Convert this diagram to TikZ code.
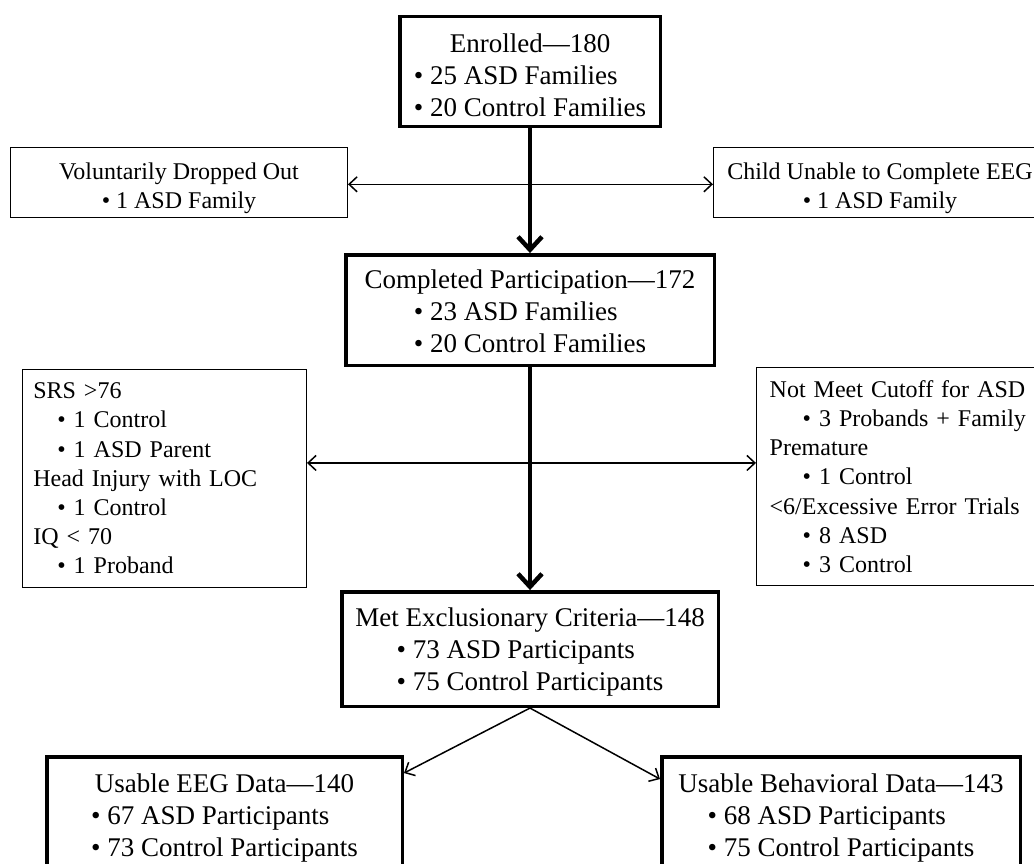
\documentclass[tikz,border=0pt]{standalone}
\usepackage{fontspec}
\setmainfont{Liberation Serif}
\usetikzlibrary{positioning}
\usetikzlibrary{calc}
\usetikzlibrary{arrows.meta}

\tikzset{
  mainbox/.style={rectangle, draw, line width=3.5pt, align=center, inner sep=0pt,
    font=\fontsize{27}{32}\selectfont},
  sidebox/.style={rectangle, draw, line width=1.4pt, inner ysep=0pt,
    font=\fontsize{24}{29.2}\selectfont},
  thickarrow/.style={-{Straight Barb[length=13pt,width=24pt]}, line width=4.5pt},
  bothway/.style={{Straight Barb[length=8pt,width=15pt]}-{Straight Barb[length=8pt,width=15pt]}, line width=1.5pt},
  onearrow/.style={-{Straight Barb[length=8pt,width=15pt]}, line width=1.5pt}
}

\begin{document}
\begin{tikzpicture}[x=1pt,y=-1pt]
\useasboundingbox (0,0) rectangle (1034,863);

\node [mainbox, minimum width=260.5pt, minimum height=107.5pt] (enrolled) at (530,71.5)
  {\rule{0pt}{36pt}Enrolled—180\\ \begin{tabular}[t]{@{}l@{}}• 25 ASD Families\\ • 20 Control Families\end{tabular}};

\node [mainbox, minimum width=368.5pt, minimum height=110.5pt] (completed) [below=125pt of enrolled]
  {\rule{0pt}{30pt}Completed Participation—172\\ \begin{tabular}[t]{@{}l@{}}• 23 ASD Families\\ • 20 Control Families\end{tabular}};
\draw [thickarrow] (enrolled) to (completed);

\node [mainbox, minimum width=376.5pt, minimum height=114.5pt] (met) [below=223pt of completed]
  {\rule{0pt}{28pt}Met Exclusionary Criteria—148\\ \begin{tabular}[t]{@{}l@{}}• 73 ASD Participants\\ • 75 Control Participants\end{tabular}};
\draw [thickarrow] (completed) to (met);

%dropped out
\node [sidebox, align=center, minimum width=336.6pt, minimum height=69.6pt] (dropped) [below left=19pt and 50pt of enrolled]
  {\rule{0pt}{28pt}Voluntarily Dropped Out\\ • 1 ASD Family};
\node [sidebox, align=center, minimum width=332.6pt, minimum height=69.6pt] (unable) [below right=19pt and 51pt of enrolled]
  {\rule{0pt}{28pt}Child Unable to Complete EEG\\ • 1 ASD Family};
\coordinate (gap1) at ($(enrolled.south)!0.45!(completed.north)$);
\draw [bothway] (dropped.east |- gap1) to (unable.west |- gap1);

%excluded
\node [sidebox, align=left, inner xsep=11pt, text width=262pt, minimum height=217.6pt] (srs) [below left=2pt and 37pt of completed]
  {SRS >76\\ \hspace*{24pt}• 1 Control\\ \hspace*{24pt}• 1 ASD Parent\\ Head Injury with LOC\\
   \hspace*{24pt}• 1 Control\\ IQ < 70\\ \hspace*{24pt}• 1 Proband};
\node [sidebox, align=left, inner xsep=13pt, text width=262pt, minimum height=217.6pt] (cutoff) [below right=0pt and 40pt of completed]
  {Not Meet Cutoff for ASD\\ \hspace*{33pt}• 3 Probands + Family\\ Premature\\ \hspace*{33pt}• 1 Control\\
   <6/Excessive Error Trials\\ \hspace*{33pt}• 8 ASD\\ \hspace*{33pt}• 3 Control};
\coordinate (gap2) at ($(completed.south)!0.43!(met.north)$);
\draw [bothway] (srs.east |- gap2) to (cutoff.west |- gap2);

%usable data
\node [mainbox, minimum width=355.5pt, minimum height=114.5pt] (eeg) [below left=47pt and 126pt of met.south]
  {\rule{0pt}{30pt}Usable EEG Data—140\\ \begin{tabular}[t]{@{}l@{}}• 67 ASD Participants\\ • 73 Control Participants\end{tabular}};
\node [mainbox, minimum width=358.5pt, minimum height=114.5pt] (behav) [below right=47pt and 130pt of met.south]
  {\rule{0pt}{30pt}Usable Behavioral Data—143\\ \begin{tabular}[t]{@{}l@{}}• 68 ASD Participants\\ • 75 Control Participants\end{tabular}};
\draw [onearrow] (met.south) to ([yshift=-18pt]eeg.north east);
\draw [onearrow] (met.south) to ([yshift=-24pt]behav.north west);

\end{tikzpicture}
\end{document}
